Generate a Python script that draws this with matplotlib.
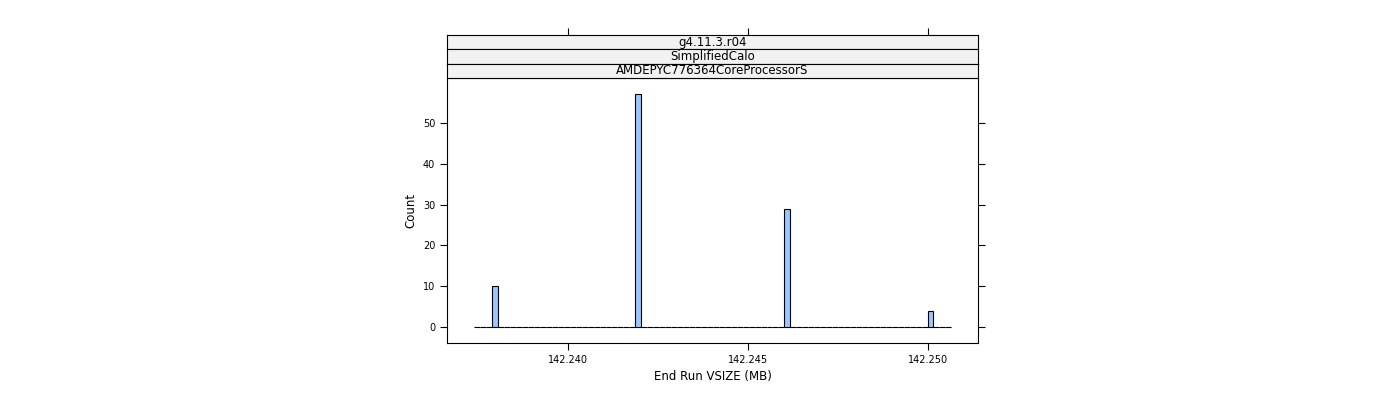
import numpy as np
import matplotlib
matplotlib.use("Agg")
import matplotlib.pyplot as plt
from matplotlib.patches import Rectangle

values = [142.23794, 142.24197, 142.24602, 142.25004]
counts = [10, 57, 29, 4]
strips = ["g4.11.3.r04", "SimplifiedCalo", "AMDEPYC776364CoreProcessorS"]
xticks = [142.240, 142.245, 142.250]
yticks = [0, 10, 20, 30, 40, 50]

data = np.repeat(values, counts)
bins = np.linspace(142.23739, 142.25064, 81)

fig = plt.figure(figsize=(14, 4), dpi=100)
W, H = 1400, 400
L, R, T, B = 447, 978, 78, 343
ax = fig.add_axes([L / W, 1 - B / H, (R - L) / W, (B - T) / H])
ax.hist(data, bins=bins, color="#99C7FF", edgecolor="black", linewidth=0.8)
ax.set_xlim(142.23663, 142.25138)
ax.set_ylim(-3.92, 61.0)
ax.set_xticks(xticks)
ax.set_xticklabels([f"{v:.3f}" for v in xticks])
ax.set_yticks(yticks)
ax.tick_params(direction="out", length=5, labelsize=7, right=True, top=False, width=0.8)
for s in ax.spines.values():
    s.set_linewidth(0.8)
ax.set_xlabel("End Run VSIZE (MB)", fontsize=8.5)
ax.set_ylabel("Count", fontsize=8.5)

sh = (T - 35) / 3
for i, txt in enumerate(strips):
    top = 35 + i * sh
    sax = fig.add_axes([L / W, 1 - (top + sh) / H, (R - L) / W, sh / H])
    sax.set_facecolor("#F2F2F2")
    sax.set_xlim(ax.get_xlim())
    sax.set_yticks([])
    for s in sax.spines.values():
        s.set_linewidth(0.8)
    sax.text(0.5, 0.5, txt, ha="center", va="center", fontsize=8.5, transform=sax.transAxes)
    if i == 0:
        sax.set_xticks(xticks)
        sax.tick_params(axis="x", direction="out", length=5, top=True, bottom=False,
                        labeltop=False, labelbottom=False, width=0.8)
    else:
        sax.set_xticks([])

fig.savefig("out.png", dpi=100)
